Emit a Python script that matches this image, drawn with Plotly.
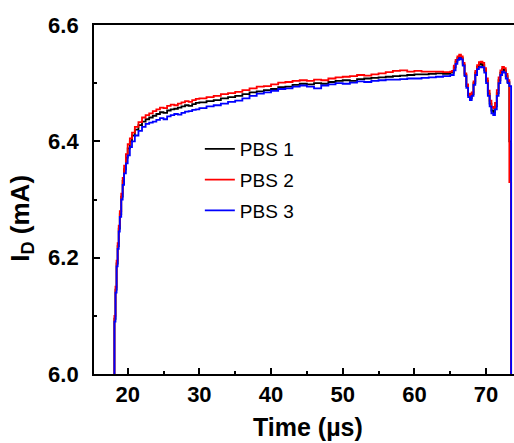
import plotly.graph_objects as go

time_us = [18.10, 18.15, 18.3, 18.45, 18.6, 18.75, 18.9, 19.1, 19.3, 19.5, 19.75, 20.0, 20.3, 20.6, 21.0,
           21.5, 22.0, 22.5, 23.0, 23.5, 24.0, 24.5, 25.0, 25.5, 26.0, 26.5, 27.0, 27.5, 28.0, 28.5, 29.0, 29.5,
           30, 31, 32, 33, 34, 35, 36, 37, 38, 39, 40, 41, 42, 43, 44, 45, 46, 47, 48, 49,
           50, 51, 52, 53, 54, 55, 56, 57, 58, 59, 60, 61, 62, 63, 64, 65,
           65.25, 65.5, 65.75, 66.0, 66.25, 66.5, 66.75, 67.0, 67.25, 67.5, 67.75, 68.0, 68.25, 68.5, 68.75,
           69.0, 69.25, 69.5, 69.75, 70.0, 70.25, 70.5, 70.75, 71.0, 71.25, 71.5, 71.75, 72.0, 72.25, 72.5,
           72.75, 73.0, 73.25, 73.5]

pbs1 = [5.98, 6.095, 6.145, 6.19, 6.22, 6.25, 6.275, 6.305, 6.332, 6.352, 6.372, 6.388, 6.40, 6.41, 6.42,
        6.428, 6.434, 6.438, 6.441, 6.444, 6.447, 6.45, 6.449, 6.453, 6.455, 6.456, 6.458, 6.46, 6.462, 6.461, 6.464, 6.466,
        6.467, 6.469, 6.471, 6.474, 6.476, 6.478, 6.481, 6.484, 6.486, 6.488, 6.49, 6.493, 6.494, 6.497, 6.499, 6.498,
        6.5, 6.499, 6.502, 6.504, 6.505, 6.504, 6.507, 6.508, 6.509, 6.51, 6.511, 6.512, 6.513, 6.514, 6.515, 6.515,
        6.516, 6.517, 6.516, 6.518,
        6.518, 6.527, 6.537, 6.543, 6.546, 6.543, 6.532, 6.514, 6.495, 6.479, 6.474, 6.481, 6.5, 6.518, 6.528,
        6.532, 6.533, 6.531, 6.522, 6.504, 6.482, 6.465, 6.453, 6.45, 6.46, 6.483, 6.505, 6.518, 6.524, 6.522,
        6.512, 6.502, 6.40, 5.98]

pbs2 = [5.98, 6.10, 6.15, 6.195, 6.225, 6.255, 6.28, 6.31, 6.337, 6.358, 6.378, 6.395, 6.405, 6.415, 6.425,
        6.433, 6.441, 6.445, 6.448, 6.452, 6.455, 6.458, 6.457, 6.461, 6.463, 6.462, 6.465, 6.467, 6.469, 6.468, 6.471, 6.473,
        6.474, 6.476, 6.478, 6.481, 6.483, 6.485, 6.488, 6.491, 6.494, 6.495, 6.498, 6.501, 6.502, 6.504, 6.505, 6.504,
        6.506, 6.505, 6.508, 6.51, 6.511, 6.512, 6.514, 6.513, 6.515, 6.517, 6.519, 6.521, 6.522, 6.52, 6.521, 6.52,
        6.52, 6.52, 6.519, 6.52,
        6.521, 6.53, 6.54, 6.546, 6.549, 6.546, 6.535, 6.517, 6.498, 6.482, 6.477, 6.484, 6.503, 6.521, 6.531,
        6.536, 6.537, 6.535, 6.526, 6.508, 6.487, 6.47, 6.459, 6.457, 6.466, 6.488, 6.51, 6.522, 6.528, 6.526,
        6.516, 6.505, 6.33, 5.98]

pbs3 = [5.98, 6.09, 6.14, 6.185, 6.215, 6.245, 6.27, 6.30, 6.325, 6.345, 6.362, 6.376, 6.39, 6.40, 6.41,
        6.418, 6.425, 6.43, 6.432, 6.434, 6.437, 6.44, 6.438, 6.443, 6.445, 6.447, 6.446, 6.449, 6.451, 6.452, 6.454, 6.455,
        6.457, 6.46, 6.462, 6.465, 6.468, 6.47, 6.474, 6.478, 6.482, 6.484, 6.487, 6.49, 6.491, 6.494, 6.496, 6.494,
        6.491, 6.496, 6.498, 6.5, 6.499, 6.501, 6.503, 6.502, 6.504, 6.505, 6.506, 6.506, 6.507, 6.508, 6.508, 6.509,
        6.51, 6.511, 6.512, 6.514,
        6.514, 6.522, 6.533, 6.54, 6.543, 6.541, 6.53, 6.512, 6.492, 6.476, 6.471, 6.478, 6.497, 6.514, 6.524,
        6.527, 6.528, 6.527, 6.518, 6.5, 6.478, 6.46, 6.448, 6.445, 6.455, 6.478, 6.5, 6.514, 6.52, 6.518,
        6.508, 6.5, 6.495, 5.98]

series = [("PBS 1", pbs1, "#000000"), ("PBS 2", pbs2, "#ff0000"), ("PBS 3", pbs3, "#0000ff")]
x_ticks = [20, 30, 40, 50, 60, 70]
y_ticks = [6.0, 6.2, 6.4, 6.6]

FONT = "Liberation Sans, Arial, sans-serif"

fig = go.Figure()
for name, vals, col in series:
    fig.add_trace(go.Scatter(x=time_us, y=vals, name=name, mode="lines", legendgroup=name,
                             line=dict(color=col, width=1.8, shape="hv")))

fig.update_layout(
    width=514, height=443,
    margin=dict(l=94, r=0, t=25, b=69),
    paper_bgcolor="white", plot_bgcolor="white",
    showlegend=True,
    legend=dict(x=0.252, y=0.699, xanchor="left", yanchor="top",
                font=dict(family=FONT, size=19, color="black"),
                bgcolor="rgba(0,0,0,0)", tracegroupgap=3, traceorder="grouped",
                itemclick=False),
    annotations=[
        dict(text="I<sub>D</sub> (mA)", xref="paper", yref="paper", x=-0.172, y=0.447,
             xanchor="center", yanchor="middle", textangle=-90, showarrow=False,
             font=dict(family=FONT, size=26, color="black", weight="bold")),
        dict(text="Time (µs)", xref="paper", yref="paper", x=0.51, y=-0.152,
             xanchor="center", yanchor="middle", showarrow=False,
             font=dict(family=FONT, size=25, color="black", weight="bold")),
    ],
)

fig.update_xaxes(range=[15.3, 73.9], tickvals=x_ticks, ticks="inside", ticklen=6, tickwidth=1.5,
                 tickcolor="black", showline=True, linecolor="black", linewidth=1.8, mirror=True,
                 showgrid=False, zeroline=False, ticklabelstandoff=0,
                 tickfont=dict(family=FONT, size=22, color="black", weight="bold"),
                 minor=dict(tickvals=[25, 35, 45, 55, 65], ticks="inside", ticklen=3, tickwidth=1.5,
                            tickcolor="black", showgrid=False))
fig.update_yaxes(range=[6.0, 6.6], tickvals=y_ticks, tickformat=".1f", ticks="inside", ticklen=6,
                 tickwidth=1.5, tickcolor="black", showline=True, linecolor="black", linewidth=1.8,
                 mirror=False, showgrid=False, zeroline=False, ticklabelstandoff=9,
                 tickfont=dict(family=FONT, size=22, color="black", weight="bold"),
                 minor=dict(tickvals=[6.1, 6.3, 6.5], ticks="inside", ticklen=3, tickwidth=1.5,
                            tickcolor="black", showgrid=False))

fig.write_html("out.html", config={"displayModeBar": False},
               post_script="document.body.style.margin='0';document.body.style.padding='0';")
